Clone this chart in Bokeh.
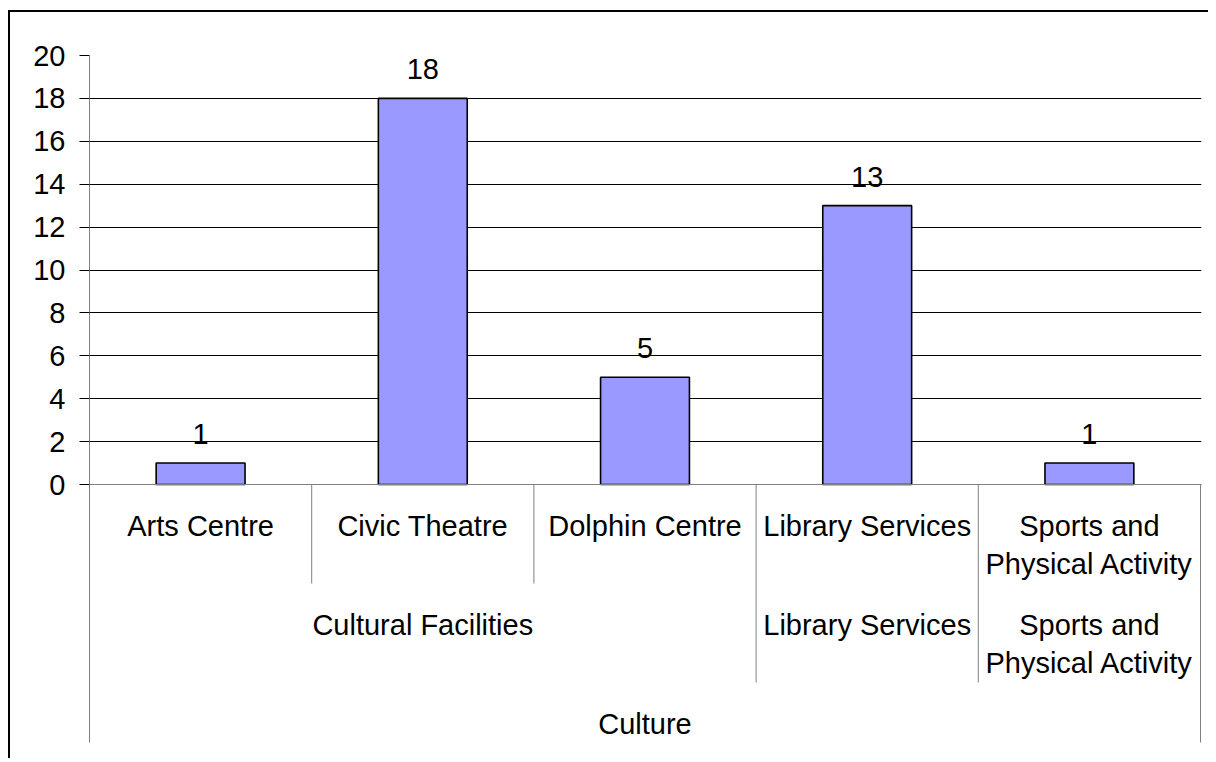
import numpy as np
from bokeh.plotting import figure
from bokeh.models import Range1d, FixedTicker, ColumnDataSource, Span
from bokeh.core.properties import value
from bokeh.embed import file_html
from bokeh.resources import INLINE

# ---------------- data ----------------
leaf_labels = ["Arts Centre", "Civic Theatre", "Dolphin Centre", "Library Services",
               "Sports and\nPhysical Activity"]
group_labels = ["Cultural Facilities", "Cultural Facilities", "Cultural Facilities",
                "Library Services", "Sports and\nPhysical Activity"]
top_labels = ["Culture", "Culture", "Culture", "Culture", "Culture"]
counts = [1, 18, 5, 13, 1]
y_ticks = [0, 2, 4, 6, 8, 10, 12, 14, 16, 18, 20]

# ---------------- layout ----------------
FONT = value("Liberation Sans")
FSIZE = "29px"
BAR_COLOR = "#9999FF"
DIV_COLOR = "#808080"

frame_h = 687            # px, from top gridline down to bottom of the category table
value_px = 429 / 20      # px per value unit
row_px = 99              # px per category-axis row
y_end = max(y_ticks)
y_start = y_end - frame_h / value_px
row_scale = value_px / row_px

n = len(leaf_labels)
x = np.arange(n)

p = figure(width=1200, height=748, output_backend="svg", toolbar_location=None,
           x_axis_location=None, title=None,
           x_range=Range1d(-0.5, -0.5 + 1112 / (1111 / n)),
           y_range=Range1d(y_start, y_end),
           min_border_left=79, min_border_right=9, min_border_top=43, min_border_bottom=18)
p.extra_y_ranges = {"tbl": Range1d(y_start * row_scale, y_end * row_scale)}
p.styles = {"border-top": "2px solid black", "border-left": "2px solid black",
            "margin-top": "10px", "margin-left": "8px"}

p.outline_line_color = None
p.background_fill_color = "white"
p.border_fill_color = "white"
p.xgrid.visible = False

ticker = FixedTicker(ticks=y_ticks)
p.yaxis.ticker = ticker
p.ygrid.ticker = ticker
p.ygrid.grid_line_color = "black"
p.ygrid.grid_line_width = 1
p.yaxis.axis_line_color = DIV_COLOR
p.yaxis.major_tick_line_color = "black"
p.yaxis.major_tick_out = 10
p.yaxis.major_tick_in = 0
p.yaxis.minor_tick_line_color = None
p.yaxis.major_label_standoff = 14
p.yaxis.major_label_text_font = "Liberation Sans"
p.yaxis.major_label_text_font_size = FSIZE
p.yaxis.major_label_text_color = "black"

# bars
src = ColumnDataSource(dict(x=x, counts=counts, label=[str(c) for c in counts]))
p.vbar(x="x", top="counts", bottom=0, width=0.4, source=src,
       fill_color=BAR_COLOR, line_color="black", line_width=1.6)
p.text(x="x", y="counts", text="label", source=src, text_align="center",
       text_baseline="alphabetic", y_offset=-29, text_font=FONT,
       text_font_size=value(FSIZE), text_color="black")

# category axis baseline (grey, over the 0 gridline)
p.add_layout(Span(location=0, dimension="width", line_color=DIV_COLOR, line_width=1))


# multi-level category axis
def spans(labels):
    out = []
    start = 0
    for i in range(1, len(labels) + 1):
        if i == len(labels) or labels[i] != labels[start]:
            out.append((labels[start], start, i - 1))
            start = i
    return out


boundary_depth = {}
levels = [leaf_labels, group_labels, top_labels]
for depth, labels in enumerate(levels, start=1):
    sp = spans(labels)
    cx = [(s + e) / 2 for _, s, e in sp]
    txt = [lab for lab, _, _ in sp]
    ty = [-(depth - 1) - 0.26] * len(sp)
    p.text(x=cx, y=ty, text=txt, y_range_name="tbl", text_align="center",
           text_baseline="top", text_font=FONT, text_font_size=value(FSIZE),
           text_color="black", text_line_height=1.185)
    for _, s, e in sp:
        for b in (s - 0.5, e + 0.5):
            boundary_depth[b] = max(boundary_depth.get(b, 0), depth)

bx = sorted(boundary_depth)
p.segment(x0=bx, y0=[0] * len(bx), x1=bx, y1=[-boundary_depth[b] for b in bx],
          y_range_name="tbl", line_color=DIV_COLOR, line_width=1)

open("out.html", "w").write(file_html(p, INLINE))
